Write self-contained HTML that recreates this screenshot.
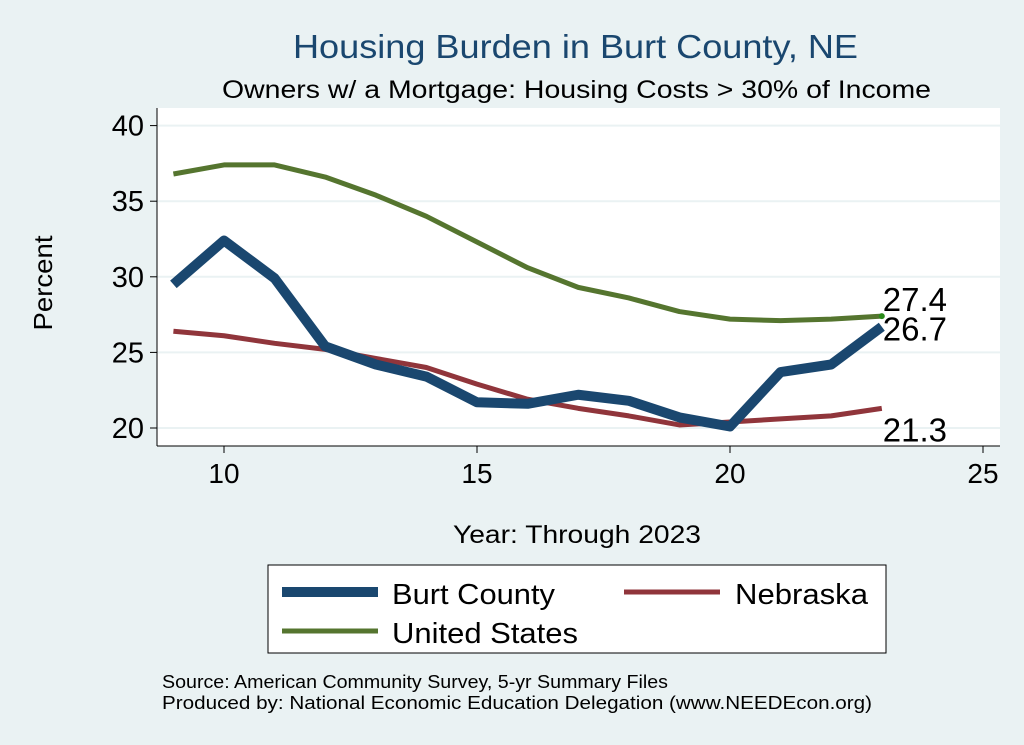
<!DOCTYPE html>
<html><head><meta charset="utf-8"><style>
body{margin:0;background:#eaf2f3;}
svg{display:block;font-family:"Liberation Sans",Arial,sans-serif;}
</style></head><body>
<svg id="c" width="1024" height="745" viewBox="0 0 1024 745">
<rect x="0" y="0" width="1024" height="745" fill="#eaf2f3"/>
<text x="293" y="58" font-size="33" textLength="565" lengthAdjust="spacingAndGlyphs" fill="#1a476f">Housing Burden in Burt County, NE</text>
<text x="222" y="98" font-size="25" textLength="709" lengthAdjust="spacingAndGlyphs" fill="#000">Owners w/ a Mortgage: Housing Costs &gt; 30% of Income</text>
<rect x="157" y="108" width="843" height="338" fill="#fff"/>
<g id="grid"></g><g id="axes"></g><g id="series"></g>
<text x="52" y="283" text-anchor="middle" font-size="26" textLength="95" lengthAdjust="spacingAndGlyphs" transform="rotate(-90 52 283)">Percent</text>
<text x="453" y="543" font-size="25" textLength="248" lengthAdjust="spacingAndGlyphs">Year: Through 2023</text>
<g>
<rect x="268" y="565" width="618" height="88" fill="#fff" stroke="#000" stroke-width="1"/>
<line x1="282" y1="592" x2="378" y2="592" stroke="#1a476f" stroke-width="10"/>
<text x="392" y="604" font-size="29" textLength="163" lengthAdjust="spacingAndGlyphs">Burt County</text>
<line x1="624" y1="592" x2="720" y2="592" stroke="#90353b" stroke-width="5"/>
<text x="735" y="604" font-size="29" textLength="133" lengthAdjust="spacingAndGlyphs">Nebraska</text>
<line x1="282" y1="631" x2="378" y2="631" stroke="#55752f" stroke-width="5"/>
<text x="392" y="643" font-size="29" textLength="186" lengthAdjust="spacingAndGlyphs">United States</text>
</g>
<text x="162" y="688" font-size="18" textLength="506" lengthAdjust="spacingAndGlyphs">Source: American Community Survey, 5-yr Summary Files</text>
<text x="162" y="709" font-size="18" textLength="710" lengthAdjust="spacingAndGlyphs">Produced by: National Economic Education Delegation (www.NEEDEcon.org)</text>
</svg>
<script>
const years=[9,10,11,12,13,14,15,16,17,18,19,20,21,22,23];
const burt=[29.5,32.4,29.9,25.4,24.2,23.4,21.7,21.6,22.2,21.8,20.7,20.1,23.7,24.2,26.7];
const nebraska=[26.4,26.1,25.6,25.2,24.6,24.0,22.9,21.9,21.3,20.8,20.2,20.4,20.6,20.8,21.3];
const us=[36.8,37.4,37.4,36.6,35.4,34.0,32.3,30.6,29.3,28.6,27.7,27.2,27.1,27.2,27.4];
const xTicks=[10,15,20,25];
const yTicks=[20,25,30,35,40];
const NS="http://www.w3.org/2000/svg";
const X=v=>224+(v-10)*50.6;
const Y=v=>428-(v-20)*15.12;
function mk(t,a,p){const e=document.createElementNS(NS,t);for(const k in a)e.setAttribute(k,a[k]);p.appendChild(e);return e;}
const grid=document.getElementById('grid'),axes=document.getElementById('axes'),ser=document.getElementById('series');
mk('line',{x1:157,y1:108,x2:157,y2:446,stroke:'#000','stroke-width':1},axes);
mk('line',{x1:157,y1:446,x2:1000,y2:446,stroke:'#000','stroke-width':1},axes);
yTicks.forEach(t=>{
 const g=mk('line',{x1:157,x2:1000,y1:Y(t),y2:Y(t),stroke:'#eaf2f3','stroke-width':2},grid);
 
 mk('line',{x1:150,x2:157,y1:Y(t),y2:Y(t),stroke:'#000'},axes);
 const tx=mk('text',{x:144,y:Y(t)+10,'text-anchor':'end','font-size':29},axes);tx.textContent=t;
 
});
xTicks.forEach(t=>{
 mk('line',{x1:X(t),x2:X(t),y1:446,y2:453,stroke:'#000'},axes);
 const tx=mk('text',{x:X(t),y:483,'text-anchor':'middle','font-size':28},axes);tx.textContent=t;
 
});
function line(vals,col,w,name){
 const p=mk('polyline',{points:vals.map((v,i)=>X(years[i])+','+Y(v)).join(' '),fill:'none',stroke:col,'stroke-width':w,'stroke-linejoin':'round'},ser);
 
}
line(us,'#55752f',5,'us-line');
line(nebraska,'#90353b',5,'nebraska-line');
line(burt,'#1a476f',10,'burt-line');
const n=years.length-1;
mk('circle',{cx:X(years[n]),cy:Y(us[n]),r:3,fill:'#2a8a1a'},ser);
function lab(v,dy,name){const t=mk('text',{x:X(years[n])+1,y:Y(v)+dy,'font-size':33},ser);t.textContent=v.toFixed(1);
 }
lab(us[n],-5,'us-end-label');
lab(burt[n],14,'burt-end-label');
lab(nebraska[n],33,'nebraska-end-label');
</script>
</body></html>
